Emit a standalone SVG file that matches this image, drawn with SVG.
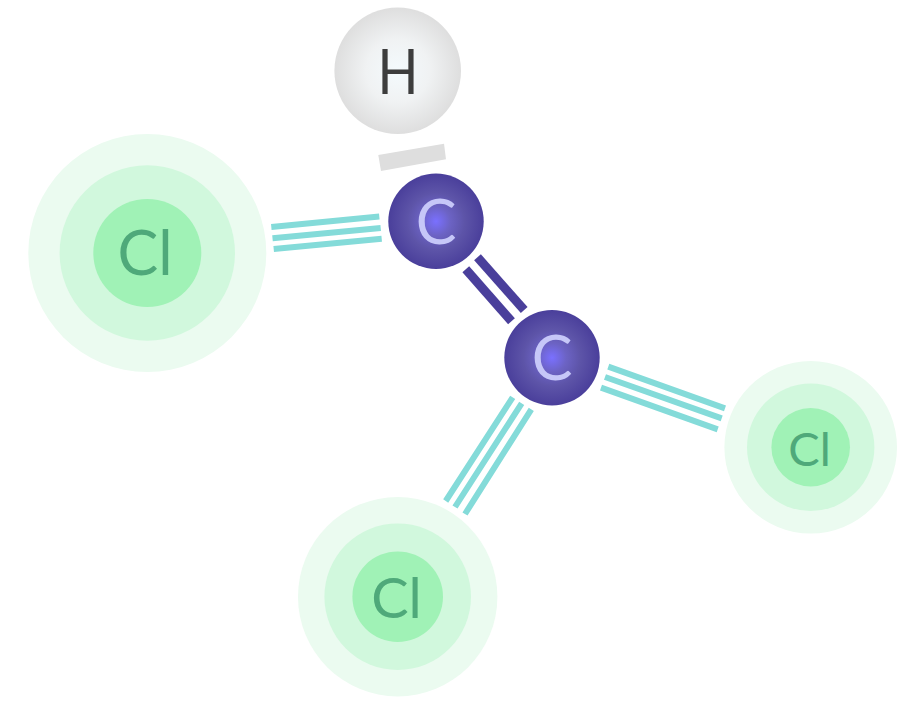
<svg xmlns="http://www.w3.org/2000/svg" width="898" height="721" viewBox="0 0 898 721">
<style>
.o{fill:#ebfbf0}.m{fill:#d1f8dd}.i{fill:#a0f2b6}
text{font-family:"Lato","Liberation Sans",sans-serif;text-anchor:middle}
.cl{fill:#4fa97a}
.c{fill:#c6c7f8;font-size:61px}
.t{stroke:#84dbd9;stroke-width:6;fill:none}
.d{stroke:#4a3f9b;stroke-width:9;fill:none}
</style>
<defs>
<radialGradient id="gc"><stop offset="0" stop-color="#7a70ff"/><stop offset="0.3" stop-color="#6c63c4"/><stop offset="0.6" stop-color="#5d54a8"/><stop offset="1" stop-color="#4a3f9b"/></radialGradient>
<radialGradient id="gh"><stop offset="0" stop-color="#f4fafd"/><stop offset="0.5" stop-color="#f0f2f3"/><stop offset="1" stop-color="#dedede"/></radialGradient>
</defs>
<rect width="898" height="721" fill="#fff"/>
<g id="connectors">
<polygon points="378.3,155 444,143.7 446,159.3 381,171" fill="#dedede"/>
<path class="d" d="M477.500,257.200L524.200,310"/>
<path class="d" d="M465.800,269.300L511.500,321.300"/>
<path class="t" d="M271.300,227L379.300,216.500M272.500,238.300L380.700,228M273.700,249L381.700,238.700"/>
<path class="t" d="M608.300,366.700L725,408.300M605,377L721.700,418.300M601,387.700L717.700,429.300"/>
<path class="t" d="M512.700,397.300L445.700,501M521.700,403.300L455,507M531.300,409.300L465,514"/>
</g>
<g id="h"><circle cx="397.700" cy="70.700" r="63.300" fill="url(#gh)"/><text x="398" y="93.500" font-size="61" fill="#3d3d3d" textLength="41" lengthAdjust="spacingAndGlyphs">H</text></g>
<g id="c1"><circle cx="436" cy="221.300" r="47.700" fill="url(#gc)"/><text class="c" x="436" y="243.500">C</text></g>
<g id="c2"><circle cx="552" cy="357.700" r="47.700" fill="url(#gc)"/><text class="c" x="552" y="379.500">C</text></g>
<g id="cl1"><circle class="o" cx="147.300" cy="253" r="119"/><circle class="m" cx="147.300" cy="253" r="87.700"/><circle class="i" cx="147.300" cy="253" r="54"/><text class="cl" x="145" y="275" font-size="61">Cl</text></g>
<g id="cl2"><circle class="o" cx="810.700" cy="447.300" r="86.300"/><circle class="m" cx="810.700" cy="447.300" r="63.700"/><circle class="i" cx="810.700" cy="447.300" r="39.300"/><text class="cl" x="809.500" y="466" font-size="47">Cl</text></g>
<g id="cl3"><circle class="o" cx="397.700" cy="596.700" r="99.700"/><circle class="m" cx="397.700" cy="596.700" r="73.300"/><circle class="i" cx="397.700" cy="596.700" r="45.300"/><text class="cl" x="396.500" y="618" font-size="56">Cl</text></g>
</svg>
